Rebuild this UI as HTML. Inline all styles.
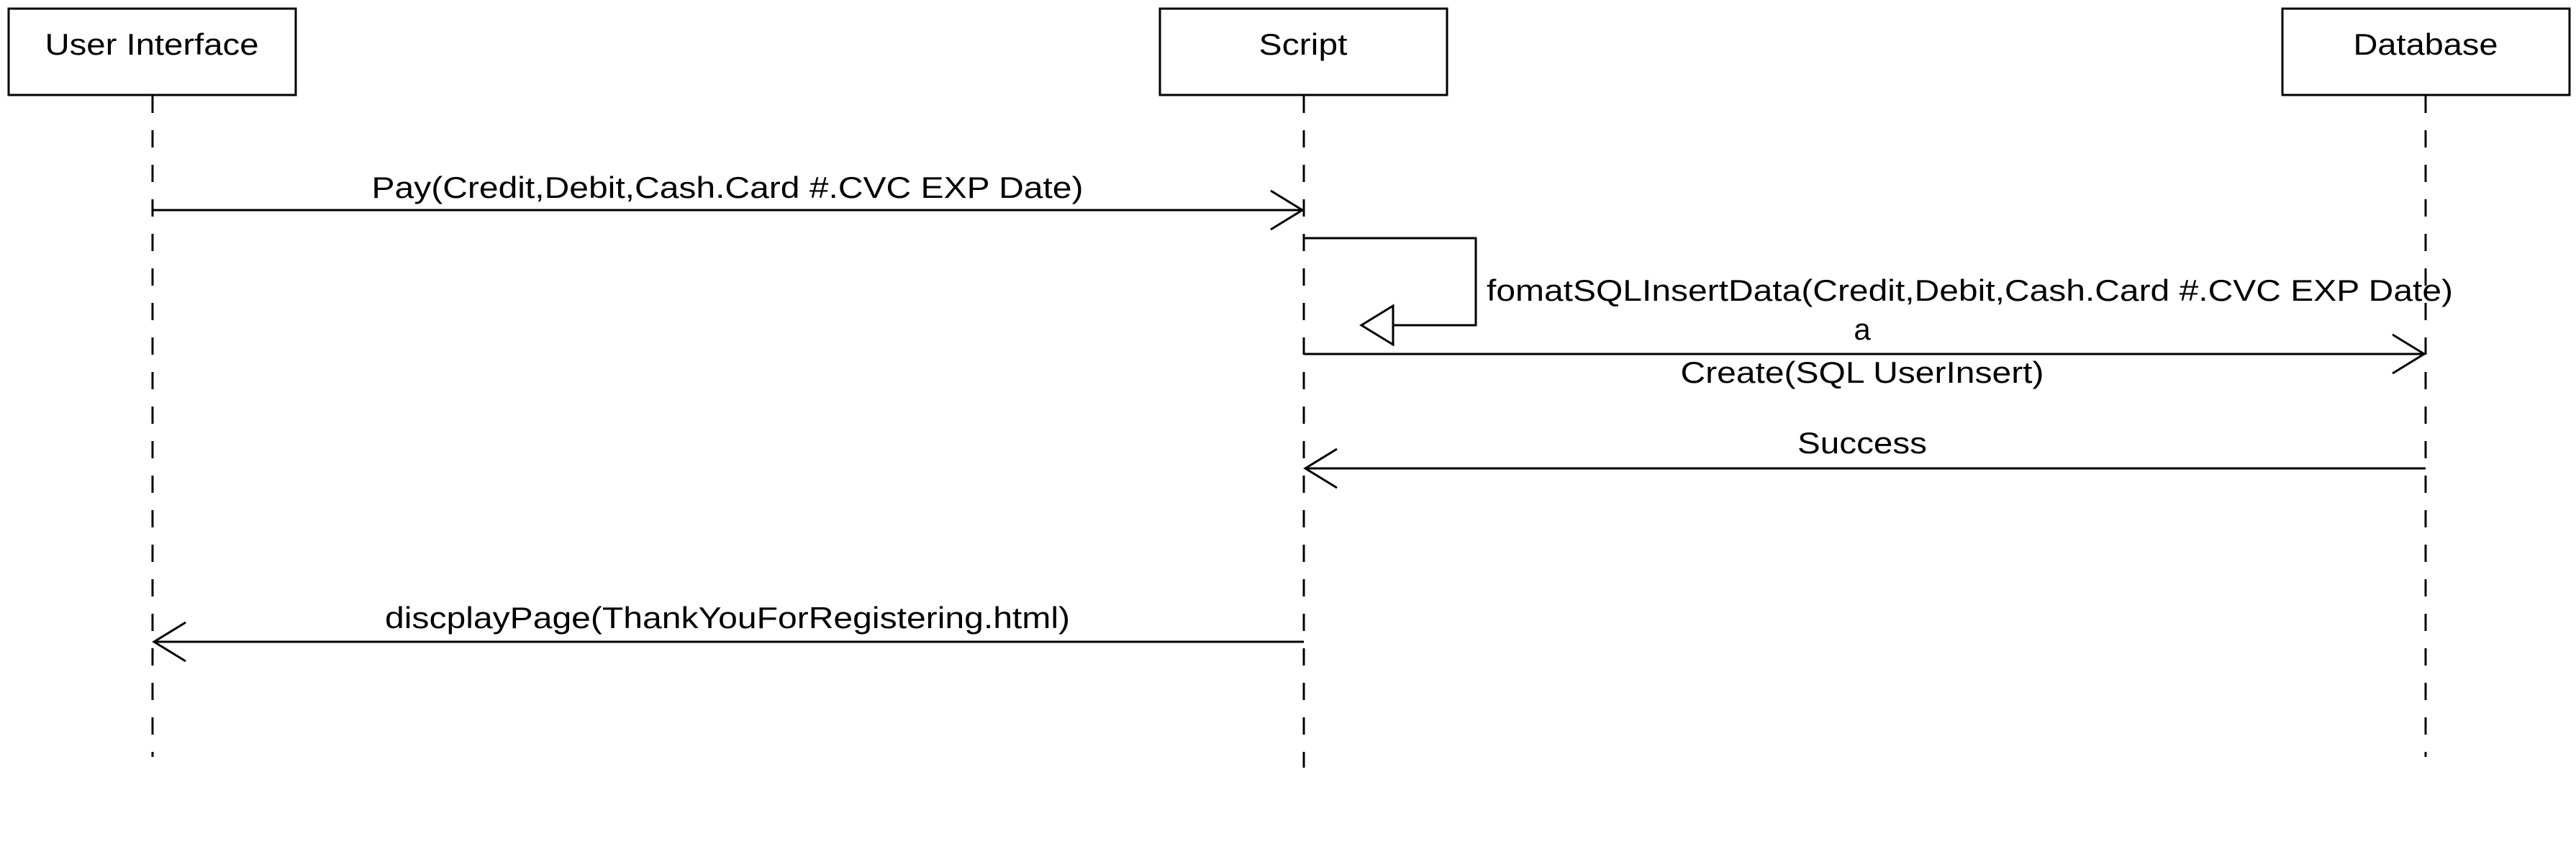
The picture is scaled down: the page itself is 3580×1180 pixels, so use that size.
<!DOCTYPE html>
<html><head><meta charset="utf-8"><style>html,body{margin:0;padding:0;background:#fff}svg{display:block}</style></head>
<body>
<svg width="3580" height="1180" viewBox="0 0 3580 1180" xmlns="http://www.w3.org/2000/svg" font-family="Liberation Sans, Arial, sans-serif" font-size="42" fill="#000">
<rect width="3580" height="1180" fill="#fff"/>
<g fill="#fff" stroke="#000" stroke-width="3">
<rect x="12" y="12" width="399" height="120"/>
<rect x="1612" y="12" width="399" height="120"/>
<rect x="3172" y="12" width="399" height="120"/>
</g>
<text x="211" y="76" text-anchor="middle" textLength="297" lengthAdjust="spacingAndGlyphs">User Interface</text>
<text x="1811" y="76" text-anchor="middle" textLength="123" lengthAdjust="spacingAndGlyphs">Script</text>
<text x="3371" y="76" text-anchor="middle" textLength="201" lengthAdjust="spacingAndGlyphs">Database</text>
<g stroke="#000" stroke-width="3" stroke-dasharray="24 24" fill="none">
<line x1="212" y1="133" x2="212" y2="1052"/>
<line x1="1812" y1="133" x2="1812" y2="1067"/>
<line x1="3371" y1="133" x2="3371" y2="1052"/>
</g>
<g stroke="#000" stroke-width="3" fill="none">
<line x1="212" y1="292" x2="1810" y2="292"/>
<polyline points="1766,265 1810,292 1766,319"/>
<polyline points="1812,331 2051,331 2051,452 1936,452"/>
<polygon points="1936,425 1892,452 1936,479" fill="#fff"/>
<line x1="1812" y1="492" x2="3369" y2="492"/>
<polyline points="3325,465 3369,492 3325,519"/>
<line x1="1814" y1="651" x2="3371" y2="651"/>
<polyline points="1858,624 1814,651 1858,678"/>
<line x1="214" y1="892" x2="1812" y2="892"/>
<polyline points="258,865 214,892 258,919"/>
</g>
<text x="1011" y="275" text-anchor="middle" textLength="989" lengthAdjust="spacingAndGlyphs">Pay(Credit,Debit,Cash.Card #.CVC EXP Date)</text>
<text x="2066" y="418" textLength="1343" lengthAdjust="spacingAndGlyphs">fomatSQLInsertData(Credit,Debit,Cash.Card #.CVC EXP Date)</text>
<text x="2588" y="472" text-anchor="middle">a</text>
<text x="2588" y="532" text-anchor="middle" textLength="505" lengthAdjust="spacingAndGlyphs">Create(SQL UserInsert)</text>
<text x="2588" y="630" text-anchor="middle" textLength="180" lengthAdjust="spacingAndGlyphs">Success</text>
<text x="1011" y="873" text-anchor="middle" textLength="952" lengthAdjust="spacingAndGlyphs">discplayPage(ThankYouForRegistering.html)</text>
</svg>
</body></html>
